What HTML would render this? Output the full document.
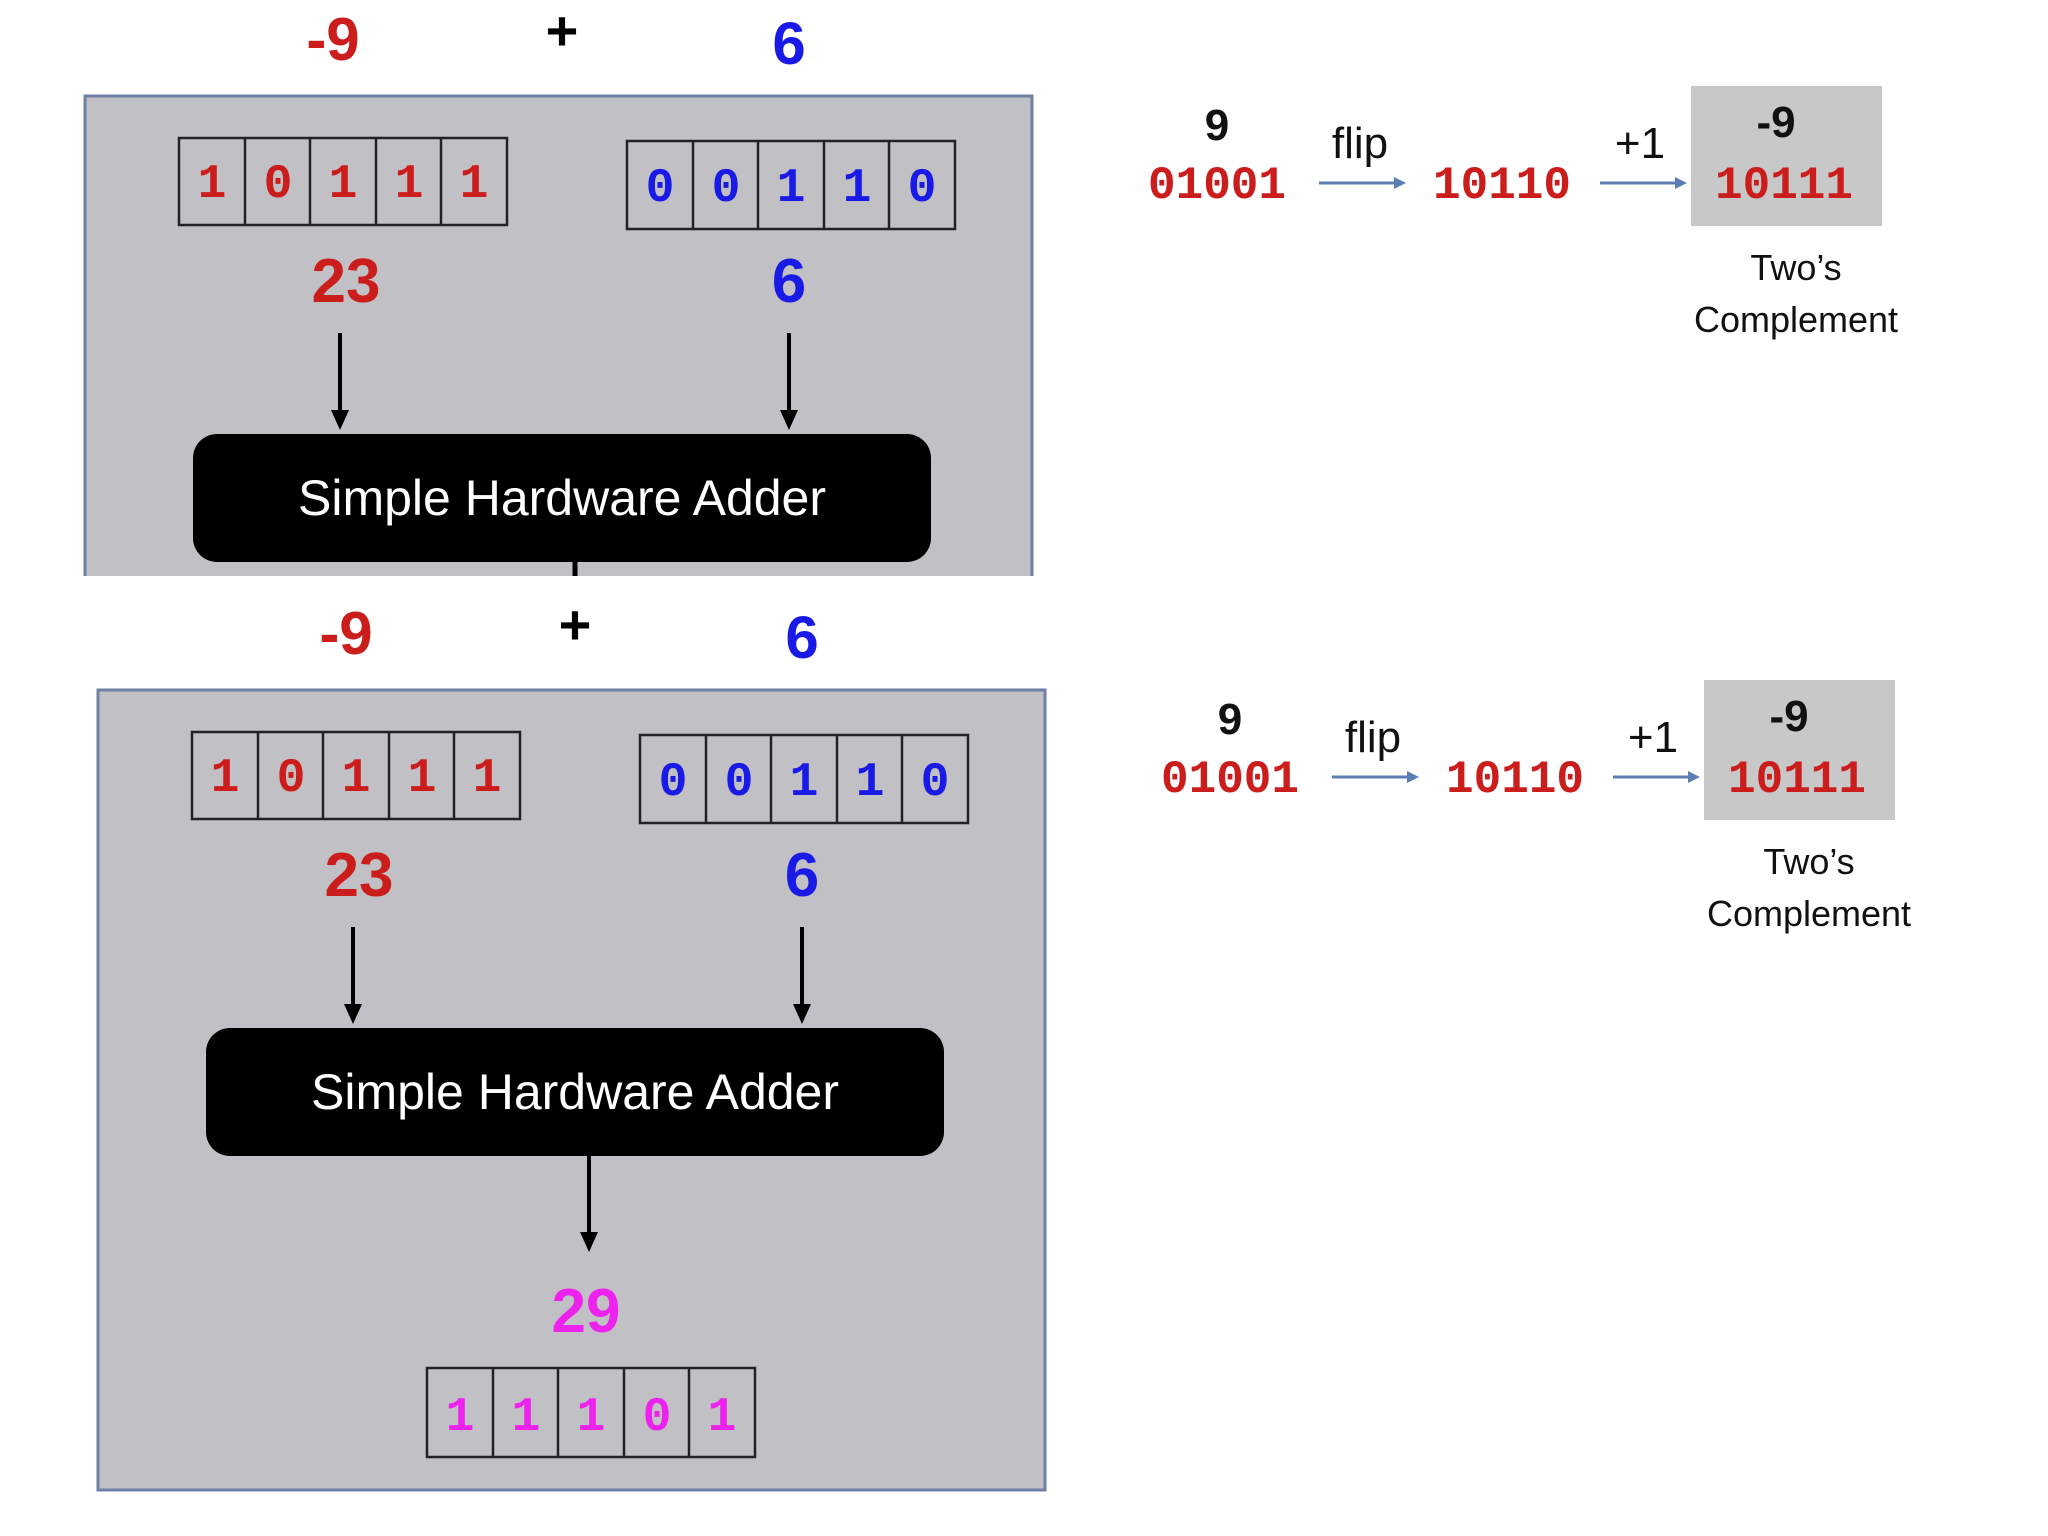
<!DOCTYPE html>
<html><head><meta charset="utf-8"><style>
html,body{margin:0;padding:0;background:#fff;width:2048px;height:1536px;overflow:hidden}
svg{display:block}
.m{font-family:"Liberation Mono",monospace;font-weight:bold}
.s{font-family:"Liberation Sans",sans-serif}
</style></head><body>
<svg width="2048" height="1536" viewBox="0 0 2048 1536" xmlns="http://www.w3.org/2000/svg">
<defs>
<marker id="ah" markerWidth="10" markerHeight="10" refX="5" refY="8" orient="auto" markerUnits="userSpaceOnUse"><path d="M0,0 L10,0 L5,10 Z" transform="translate(0,-2) scale(1)" fill="#000"/></marker>
</defs>

<!-- TOP PANEL -->
<g>
<rect x="85" y="96" width="947" height="490" fill="#c1c0c4" stroke="#6f80a6" stroke-width="3"/>
<rect x="0" y="576" width="1100" height="20" fill="#fff"/>
<text x="333" y="60" class="s" font-size="60" font-weight="bold" fill="#cc1d1d" text-anchor="middle">-9</text>
<text x="562" y="50" class="s" font-size="56" font-weight="bold" fill="#000" text-anchor="middle">+</text>
<text x="789" y="64" class="s" font-size="60" font-weight="bold" fill="#1a1ae6" text-anchor="middle">6</text>
<g fill="none" stroke="#222" stroke-width="2.5">
<rect x="179" y="138" width="328" height="87"/><line x1="245" y1="138" x2="245" y2="225"/><line x1="310" y1="138" x2="310" y2="225"/><line x1="376" y1="138" x2="376" y2="225"/><line x1="441" y1="138" x2="441" y2="225"/>
<rect x="627" y="141" width="328" height="88"/><line x1="693" y1="141" x2="693" y2="229"/><line x1="758" y1="141" x2="758" y2="229"/><line x1="824" y1="141" x2="824" y2="229"/><line x1="889" y1="141" x2="889" y2="229"/>
</g>
<g class="m" font-size="48" fill="#cc1d1d" text-anchor="middle"><text x="212" y="197">1</text><text x="278" y="197">0</text><text x="343" y="197">1</text><text x="409" y="197">1</text><text x="474" y="197">1</text></g>
<g class="m" font-size="48" fill="#1a1ae6" text-anchor="middle"><text x="660" y="201">0</text><text x="726" y="201">0</text><text x="791" y="201">1</text><text x="857" y="201">1</text><text x="922" y="201">0</text></g>
<text x="346" y="302" class="s" font-size="62" font-weight="bold" fill="#cc1d1d" text-anchor="middle">23</text>
<text x="789" y="302" class="s" font-size="62" font-weight="bold" fill="#1a1ae6" text-anchor="middle">6</text>
<line x1="340" y1="333" x2="340" y2="412" stroke="#000" stroke-width="4"/><path d="M331,410 L349,410 L340,430 Z"/>
<line x1="789" y1="333" x2="789" y2="412" stroke="#000" stroke-width="4"/><path d="M780,410 L798,410 L789,430 Z"/>
<rect x="193" y="434" width="738" height="128" rx="24" fill="#000"/>
<text x="562" y="515" class="s" font-size="50" fill="#fff" text-anchor="middle">Simple Hardware Adder</text>
<line x1="575" y1="562" x2="575" y2="576" stroke="#000" stroke-width="5"/>
</g>

<!-- BOTTOM PANEL -->
<g transform="translate(13,594)">
<rect x="85" y="96" width="947" height="800" fill="#c1c0c4" stroke="#6f80a6" stroke-width="3"/>
<text x="333" y="60" class="s" font-size="60" font-weight="bold" fill="#cc1d1d" text-anchor="middle">-9</text>
<text x="562" y="50" class="s" font-size="56" font-weight="bold" fill="#000" text-anchor="middle">+</text>
<text x="789" y="64" class="s" font-size="60" font-weight="bold" fill="#1a1ae6" text-anchor="middle">6</text>
<g fill="none" stroke="#222" stroke-width="2.5">
<rect x="179" y="138" width="328" height="87"/><line x1="245" y1="138" x2="245" y2="225"/><line x1="310" y1="138" x2="310" y2="225"/><line x1="376" y1="138" x2="376" y2="225"/><line x1="441" y1="138" x2="441" y2="225"/>
<rect x="627" y="141" width="328" height="88"/><line x1="693" y1="141" x2="693" y2="229"/><line x1="758" y1="141" x2="758" y2="229"/><line x1="824" y1="141" x2="824" y2="229"/><line x1="889" y1="141" x2="889" y2="229"/>
</g>
<g class="m" font-size="48" fill="#cc1d1d" text-anchor="middle"><text x="212" y="197">1</text><text x="278" y="197">0</text><text x="343" y="197">1</text><text x="409" y="197">1</text><text x="474" y="197">1</text></g>
<g class="m" font-size="48" fill="#1a1ae6" text-anchor="middle"><text x="660" y="201">0</text><text x="726" y="201">0</text><text x="791" y="201">1</text><text x="857" y="201">1</text><text x="922" y="201">0</text></g>
<text x="346" y="302" class="s" font-size="62" font-weight="bold" fill="#cc1d1d" text-anchor="middle">23</text>
<text x="789" y="302" class="s" font-size="62" font-weight="bold" fill="#1a1ae6" text-anchor="middle">6</text>
<line x1="340" y1="333" x2="340" y2="412" stroke="#000" stroke-width="4"/><path d="M331,410 L349,410 L340,430 Z"/>
<line x1="789" y1="333" x2="789" y2="412" stroke="#000" stroke-width="4"/><path d="M780,410 L798,410 L789,430 Z"/>
<rect x="193" y="434" width="738" height="128" rx="24" fill="#000"/>
<text x="562" y="515" class="s" font-size="50" fill="#fff" text-anchor="middle">Simple Hardware Adder</text>
<line x1="576" y1="562" x2="576" y2="640" stroke="#000" stroke-width="4"/><path d="M567,638 L585,638 L576,658 Z"/>
<text x="573" y="738" class="s" font-size="62" font-weight="bold" fill="#ee22ee" text-anchor="middle">29</text>
<g fill="none" stroke="#222" stroke-width="2.5">
<rect x="414" y="774" width="328" height="89"/><line x1="480" y1="774" x2="480" y2="863"/><line x1="545" y1="774" x2="545" y2="863"/><line x1="611" y1="774" x2="611" y2="863"/><line x1="676" y1="774" x2="676" y2="863"/>
</g>
<g class="m" font-size="48" fill="#ee22ee" text-anchor="middle"><text x="447" y="836">1</text><text x="513" y="836">1</text><text x="578" y="836">1</text><text x="644" y="836">0</text><text x="709" y="836">1</text></g>
</g>

<!-- RIGHT TOP -->
<g id="rt">
<rect x="1691" y="86" width="191" height="140" fill="#c8c8c8"/>
<text x="1217" y="140" class="s" font-size="44" font-weight="bold" fill="#111" text-anchor="middle">9</text>
<text x="1217" y="198" class="m" font-size="46" fill="#cc1d1d" text-anchor="middle">01001</text>
<text x="1360" y="158" class="s" font-size="44" fill="#111" text-anchor="middle">flip</text>
<line x1="1319" y1="183" x2="1396" y2="183" stroke="#5b7fb5" stroke-width="3"/><path d="M1394,177 L1406,183 L1394,189 Z" fill="#5b7fb5"/>
<text x="1502" y="198" class="m" font-size="46" fill="#cc1d1d" text-anchor="middle">10110</text>
<text x="1640" y="158" class="s" font-size="44" fill="#111" text-anchor="middle">+1</text>
<line x1="1600" y1="183" x2="1677" y2="183" stroke="#5b7fb5" stroke-width="3"/><path d="M1675,177 L1687,183 L1675,189 Z" fill="#5b7fb5"/>
<text x="1776" y="137" class="s" font-size="44" font-weight="bold" fill="#111" text-anchor="middle">-9</text>
<text x="1784" y="198" class="m" font-size="46" fill="#cc1d1d" text-anchor="middle">10111</text>
<text x="1796" y="280" class="s" font-size="36" fill="#111" text-anchor="middle">Two’s</text>
<text x="1796" y="332" class="s" font-size="36" fill="#111" text-anchor="middle">Complement</text>
</g>
<use href="#rt" transform="translate(13,594)"/>
</svg>
</body></html>
